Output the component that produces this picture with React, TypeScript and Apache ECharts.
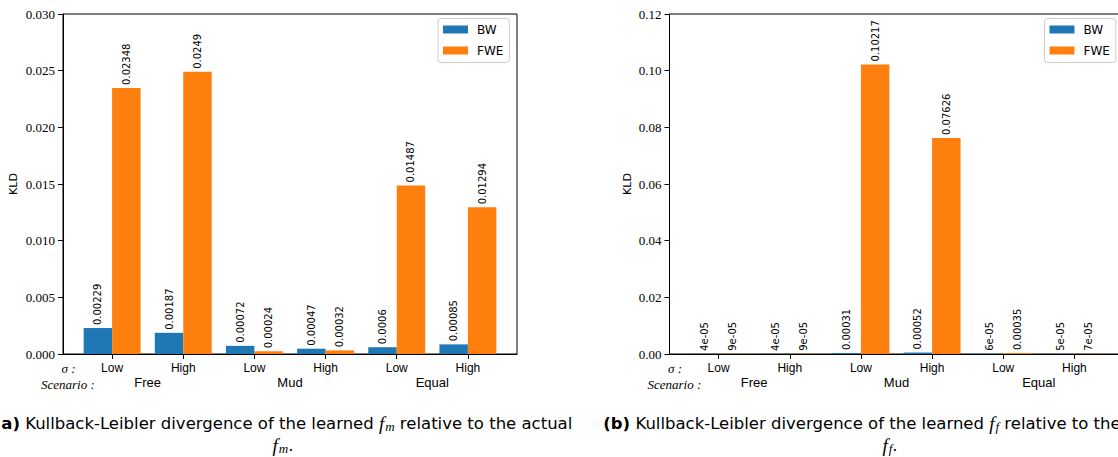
import React, { useEffect, useRef } from "react";
import * as echarts from "echarts";

// Category labels
const sigmaLevels = ["Low", "High", "Low", "High", "Low", "High"];
const scenarios = ["Free", "Mud", "Equal"];
const methods = ["BW", "FWE"];

// KLD of the learned f_m (panel a)
const fmBW = [0.00229, 0.00187, 0.00072, 0.00047, 0.0006, 0.00085];
const fmFWE = [0.02348, 0.0249, 0.00024, 0.00032, 0.01487, 0.01294];

// KLD of the learned f_f (panel b)
const ffBW = [4e-5, 4e-5, 0.00031, 0.00052, 6e-5, 5e-5];
const ffFWE = [9e-5, 9e-5, 0.10217, 0.07626, 0.00035, 7e-5];

// y-axis ranges
const yMaxA = 0.03;
const yStepA = 0.005;
const yMaxB = 0.12;
const yStepB = 0.02;

const COLORS = ["#1f77b4", "#ff7f0e"];
const BAR_W = 0.4;
const X_MIN = -0.69;
const X_MAX = 5.69;
const PLOT_W = 454;
const PLOT_H = 340;
const PLOT_TOP = 14;
const PANEL_LEFT = [63, 669.5];

const SANS = "DejaVu Sans";
const LSANS = "Liberation Sans";
const SERIF = "Liberation Serif";

// Python-like short repr: 4e-05, 0.0006, 0.02348
function fmtValue(v: number): string {
  if (v < 1e-4) {
    const [m, e] = v.toExponential().split("e");
    const n = Math.abs(parseInt(e, 10));
    return `${m}e-${n < 10 ? "0" + n : n}`;
  }
  return String(v);
}

function makeRender(side: number) {
  return (_params: any, api: any) => {
    const i = api.value(0) as number;
    const v = api.value(1) as number;
    const base = api.coord([i, 0]);
    const top = api.coord([i, v]);
    const w = api.size([BAR_W, 0])[0];
    const x0 = side < 0 ? base[0] - w : base[0];
    return {
      type: "group",
      children: [
        {
          type: "rect",
          shape: { x: x0, y: top[1], width: w, height: base[1] - top[1] },
          style: { fill: api.visual("color") },
        },
        {
          type: "text",
          x: x0 + w / 2,
          y: top[1] - 3,
          rotation: Math.PI / 2,
          style: {
            text: fmtValue(v),
            fontFamily: SANS,
            fontSize: 10,
            fill: "#000",
            align: "left",
            verticalAlign: "middle",
          },
        },
      ],
    };
  };
}

function buildOption() {
  const panels = [
    { bw: fmBW, fwe: fmFWE, yMax: yMaxA, yStep: yStepA, digits: 3, nameGap: 44 },
    { bw: ffBW, fwe: ffFWE, yMax: yMaxB, yStep: yStepB, digits: 2, nameGap: 37 },
  ];

  const grid: any[] = [];
  const xAxis: any[] = [];
  const yAxis: any[] = [];
  const series: any[] = [];
  const legend: any[] = [];
  const graphic: any[] = [];

  panels.forEach((p, g) => {
    const left = PANEL_LEFT[g];
    grid.push({
      left,
      top: PLOT_TOP,
      width: PLOT_W,
      height: PLOT_H,
      show: true,
      borderColor: "#000",
      borderWidth: 1,
      outerBoundsMode: "none",
    });
    // sigma level axis
    xAxis.push({
      type: "value",
      gridIndex: g,
      min: X_MIN,
      max: X_MAX,
      position: "bottom",
      axisLine: { show: true, onZero: false, lineStyle: { color: "#000", width: 1 } },
      axisTick: {
        show: true,
        length: 5,
        customValues: sigmaLevels.map((_, i) => i),
        lineStyle: { color: "#000" },
      },
      axisLabel: {
        customValues: sigmaLevels.map((_, i) => i),
        formatter: (v: number) => sigmaLevels[Math.round(v)] ?? "",
        margin: 8,
        fontFamily: LSANS,
        fontSize: 12,
        color: "#000",
      },
      splitLine: { show: false },
    });
    // scenario axis
    xAxis.push({
      type: "value",
      gridIndex: g,
      min: X_MIN,
      max: X_MAX,
      position: "bottom",
      offset: 0,
      axisLine: { show: false, onZero: false },
      axisTick: { show: false },
      axisLabel: {
        customValues: scenarios.map((_, k) => 2 * k + 0.5),
        formatter: (v: number) => scenarios[Math.floor(v / 2)] ?? "",
        margin: 22,
        fontFamily: LSANS,
        fontSize: 13,
        color: "#000",
      },
      splitLine: { show: false },
    });
    yAxis.push({
      type: "value",
      gridIndex: g,
      min: 0,
      max: p.yMax,
      interval: p.yStep,
      name: "KLD",
      nameLocation: "middle",
      nameGap: p.nameGap,
      nameTextStyle: { fontFamily: SANS, fontSize: 11, color: "#000" },
      axisLine: { show: true, onZero: false, lineStyle: { color: "#000", width: 1 } },
      axisTick: { show: true, length: 5, lineStyle: { color: "#000" } },
      axisLabel: {
        formatter: (v: number) => v.toFixed(p.digits),
        margin: 8,
        fontFamily: SERIF,
        fontSize: 13,
        color: "#000",
      },
      splitLine: { show: false },
    });

    [p.bw, p.fwe].forEach((vals, s) => {
      series.push({
        type: "custom",
        name: methods[s],
        xAxisIndex: 2 * g,
        yAxisIndex: g,
        itemStyle: { color: COLORS[s] },
        data: vals.map((v, i) => [i, v]),
        encode: { x: 0, y: 1 },
        renderItem: makeRender(s === 0 ? -1 : 1),
      });
    });

    legend.push({
      data: methods.map((m) => ({ name: m, icon: "rect" })),
      orient: "vertical",
      left: left + 375,
      top: 18.5,
      itemWidth: 25,
      itemHeight: 8,
      itemGap: 9,
      padding: [5, 6, 6, 5],
      backgroundColor: "#fff",
      borderColor: "#cccccc",
      borderWidth: 1,
      borderRadius: 3,
      selectedMode: false,
      textStyle: { fontFamily: SANS, fontSize: 12, color: "#000", padding: [0, 0, 0, 4] },
    });

    graphic.push(
      {
        type: "text",
        x: left - 1.5,
        y: 368,
        style: {
          text: "σ :",
          fontFamily: SERIF,
          fontStyle: "italic",
          fontSize: 13,
          fill: "#000",
          align: "left",
          verticalAlign: "middle",
        },
      },
      {
        type: "text",
        x: left - 22,
        y: 384,
        style: {
          text: "Scenario :",
          fontFamily: SERIF,
          fontStyle: "italic",
          fontSize: 13,
          fill: "#000",
          align: "left",
          verticalAlign: "middle",
        },
      }
    );
  });

  const rich = {
    b: { fontFamily: SANS, fontSize: 16.5, fontWeight: "bold" },
    f: { fontFamily: SERIF, fontStyle: "italic", fontSize: 19 },
    s: { fontFamily: SERIF, fontStyle: "italic", fontSize: 13, padding: [7, 0, 0, 1] },
  };
  const captions = [
    { tag: "(a)", sub: "m", cx: 283 },
    { tag: "(b)", sub: "f", cx: 890 },
  ];
  captions.forEach((c) => {
    graphic.push(
      {
        type: "text",
        x: c.cx,
        y: 423,
        style: {
          text: `{b|${c.tag}} Kullback-Leibler divergence of the learned {f|f}{s|${c.sub}} relative to the actual`,
          rich,
          fontFamily: SANS,
          fontSize: 16.5,
          fill: "#000",
          align: "center",
          verticalAlign: "middle",
        },
      },
      {
        type: "text",
        x: c.cx,
        y: 445,
        style: {
          text: `{f|f}{s|${c.sub}}.`,
          rich,
          fontFamily: SANS,
          fontSize: 16.5,
          fill: "#000",
          align: "center",
          verticalAlign: "middle",
        },
      }
    );
  });

  return {
    animation: false,
    backgroundColor: "#fff",
    grid,
    xAxis,
    yAxis,
    series,
    legend,
    graphic,
  };
}

export default function App() {
  const ref = useRef<HTMLDivElement>(null);
  useEffect(() => {
    if (!ref.current) return;
    const chart = echarts.init(ref.current, null, { renderer: "svg" });
    chart.setOption(buildOption() as any);
    return () => chart.dispose();
  }, []);
  return (
    <div
      ref={ref}
      style={{ position: "absolute", left: 0, top: 0, width: 1118, height: 457, overflow: "hidden" }}
    />
  );
}
